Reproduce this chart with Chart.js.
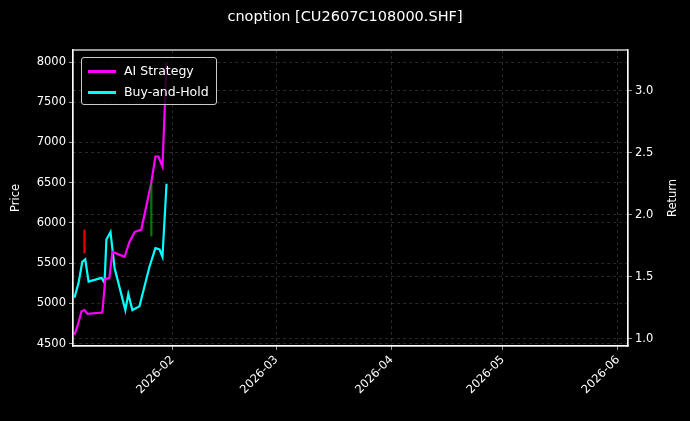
<!DOCTYPE html>
<html><head><meta charset="utf-8">
<script src="https://cdn.jsdelivr.net/npm/chart.js@4"></script>
<style>
body{margin:0;background:#000;width:690px;height:421px;overflow:hidden;font-family:"DejaVu Sans",sans-serif}
#wrap{position:relative;width:690px;height:421px}
#title{position:absolute;top:8px;left:0;width:690px;text-align:center;color:#fff;font-size:14.5px}
#legend{position:absolute;left:81px;top:57px;border:1px solid #ccc;border-radius:3px;background:rgba(0,0,0,0.8);padding:2px 7px 2px 6px;color:#fff;font-size:12.5px;line-height:21px}
#legend span.l{display:inline-block;width:28px;height:2.5px;vertical-align:middle;margin-right:8px}
</style></head>
<body><div id="wrap"><canvas id="c" width="690" height="421"></canvas>
<div id="title">cnoption [CU2607C108000.SHF]</div>
<div id="legend"><div><span class="l" style="background:#ff00ff"></span>AI Strategy</div><div><span class="l" style="background:#00ffff"></span>Buy-and-Hold</div></div>
</div>
<script>
// days counted from 2026-01-01 (day 0)
const aiDays = [4.6, 5.4, 6.5, 7.3, 8.1, 12.1, 12.9, 14.0, 14.8, 18.1, 19.4, 20.8, 22.6, 25.3, 26.4, 27.2, 28.3, 29.4];
const aiReturn = [1.03, 1.10, 1.22, 1.23, 1.20, 1.21, 1.48, 1.49, 1.70, 1.66, 1.78, 1.86, 1.88, 2.26, 2.47, 2.47, 2.39, 3.23];
const bhDays = [4.6, 5.7, 6.7, 7.5, 8.4, 11.9, 12.7, 13.2, 14.3, 15.4, 18.3, 19.1, 20.2, 22.1, 24.8, 26.4, 27.5, 28.3, 29.4];
const bhReturn = [1.33, 1.45, 1.62, 1.64, 1.46, 1.49, 1.45, 1.80, 1.86, 1.57, 1.23, 1.36, 1.23, 1.26, 1.58, 1.73, 1.72, 1.66, 2.25];
const candleDays = [7.3, 25.3];
const candleRange = [[5625, 5912], [5837, 6487]];
const candleColors = ['#ee0000', 'rgba(0,170,0,0.7)'];
const monthDays = [31, 59, 90, 120, 151];
const monthLabels = ['2026-02', '2026-03', '2026-04', '2026-05', '2026-06'];
const priceTicks = [4500, 5000, 5500, 6000, 6500, 7000, 7500, 8000];
const returnTicks = [1.0, 1.5, 2.0, 2.5, 3.0];

const pts = (xs, ys) => xs.map((x, i) => ({x: x, y: ys[i]}));
const grid = {color: 'rgba(150,150,150,0.45)', lineWidth: 0.6, tickColor: '#fff', tickLength: 4, offset: false};
const border = {color: '#fff', width: 1.2, dash: [3, 3]};
const tickFont = {family: 'DejaVu Sans', size: 11.5};

new Chart(document.getElementById('c'), {
  data: {
    datasets: [
      {type: 'bar', data: candleDays.map((d, i) => ({x: d, y: candleRange[i]})), backgroundColor: candleColors,
       barThickness: 1.6, yAxisID: 'y', xAxisID: 'x'},
      {type: 'line', label: 'AI Strategy', data: pts(aiDays, aiReturn), borderColor: '#ff00ff', borderWidth: 2.2,
       pointRadius: 0, yAxisID: 'y1', xAxisID: 'x'},
      {type: 'line', label: 'Buy-and-Hold', data: pts(bhDays, bhReturn), borderColor: '#00ffff', borderWidth: 2.2,
       pointRadius: 0, yAxisID: 'y1', xAxisID: 'x'}
    ]
  },
  options: {
    responsive: false, animation: false,
    layout: {padding: {top: 50, left: 0, right: 0, bottom: 0}},
    plugins: {legend: {display: false}, tooltip: {enabled: false}},
    scales: {
      x: {type: 'linear', min: 4.2, max: 153.7, offset: false,
        afterBuildTicks: s => { s.ticks = monthDays.map(v => ({value: v})); },
        afterFit: s => { s.height = 75; },
        ticks: {color: '#fff', font: tickFont, maxRotation: 45, minRotation: 45, autoSkip: false,
          callback: (v) => monthLabels[monthDays.indexOf(v)]},
        grid: grid, border: border},
      y: {position: 'left', min: 4470, max: 8150,
        afterBuildTicks: s => { s.ticks = priceTicks.map(v => ({value: v})); },
        afterFit: s => { s.width = 73; },
        ticks: {color: '#fff', font: tickFont, callback: v => String(v)},
        grid: grid, border: border},
      y1: {position: 'right', min: 0.94, max: 3.33,
        afterBuildTicks: s => { s.ticks = returnTicks.map(v => ({value: v})); },
        afterFit: s => { s.width = 62; },
        ticks: {color: '#fff', font: tickFont, callback: v => v.toFixed(1)},
        grid: grid, border: border}
    }
  },
  plugins: [{id: 'bg', beforeDraw: c => { const x = c.ctx; x.save(); x.fillStyle = '#000'; x.fillRect(0, 0, c.width, c.height); x.restore(); },
    afterDraw: c => {
      const x = c.ctx, a = c.chartArea, my = (a.top + a.bottom) / 2;
      x.save(); x.strokeStyle = '#fff'; x.lineWidth = 1.2; x.strokeRect(a.left, a.top, a.right - a.left, a.bottom - a.top); x.restore();
      x.save(); x.fillStyle = '#fff'; x.font = '11.5px "DejaVu Sans"'; x.textAlign = 'center'; x.textBaseline = 'middle';
      x.translate(16, my); x.rotate(-Math.PI / 2); x.fillText('Price', 0, 0); x.restore();
      x.save(); x.fillStyle = '#fff'; x.font = '11.5px "DejaVu Sans"'; x.textAlign = 'center'; x.textBaseline = 'middle';
      x.translate(673, my); x.rotate(-Math.PI / 2); x.fillText('Return', 0, 0); x.restore();
    }}]
});
</script></body></html>
